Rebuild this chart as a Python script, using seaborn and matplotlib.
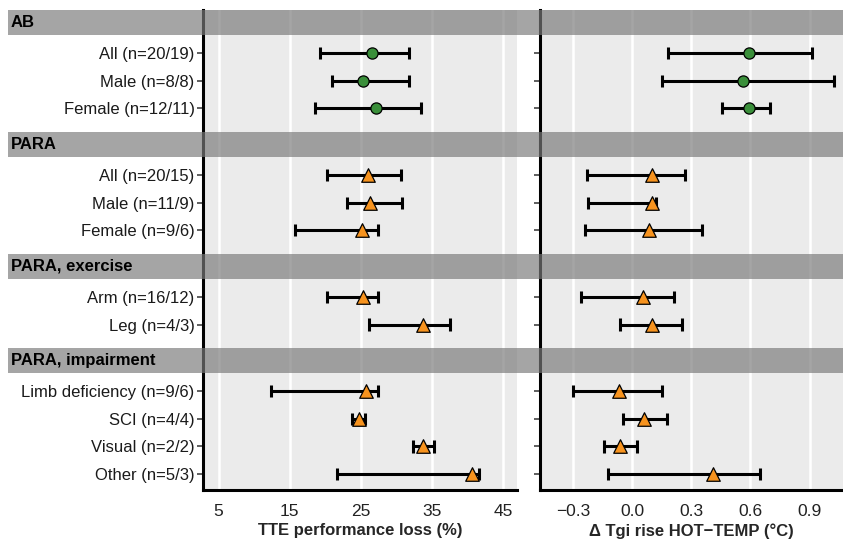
import numpy as np
import pandas as pd
import matplotlib
matplotlib.use("Agg")
import matplotlib.pyplot as plt
import matplotlib.transforms as mtransforms
from matplotlib.patches import Rectangle
import seaborn as sns

# -------------------- DATA --------------------
groups = ["AB", "PARA", "PARA, exercise", "PARA, impairment"]
group_rows = [
    ["All (n=20/19)", "Male (n=8/8)", "Female (n=12/11)"],
    ["All (n=20/15)", "Male (n=11/9)", "Female (n=9/6)"],
    ["Arm (n=16/12)", "Leg (n=4/3)"],
    ["Limb deficiency (n=9/6)", "SCI (n=4/4)", "Visual (n=2/2)", "Other (n=5/3)"],
]
population = ["AB"] * 3 + ["PARA"] * 9

# TTE performance loss (%)
tte_mean = [26.5, 25.3, 27.1, 26.0, 26.3, 25.1, 25.3, 33.8, 25.7, 24.7, 33.8, 40.6]
tte_low = [19.3, 20.9, 18.6, 20.2, 23.1, 15.7, 20.2, 26.2, 12.4, 23.7, 32.3, 21.6]
tte_high = [31.7, 31.7, 33.5, 30.7, 30.8, 27.4, 27.4, 37.5, 27.4, 25.6, 35.3, 41.6]

# Delta Tgi rise HOT-TEMP (degC)
tgi_mean = [0.595, 0.563, 0.595, 0.100, 0.100, 0.086, 0.054, 0.101, -0.069, 0.061, -0.062, 0.411]
tgi_low = [0.181, 0.149, 0.456, -0.228, -0.223, -0.238, -0.259, -0.061, -0.299, -0.046, -0.143, -0.123]
tgi_high = [0.913, 1.024, 0.698, 0.266, 0.120, 0.352, 0.213, 0.254, 0.151, 0.178, 0.022, 0.648]

tte_ticks = [5, 15, 25, 35, 45]
tgi_ticks = [-0.3, 0.0, 0.3, 0.6, 0.9]

# -------------------- LAYOUT OF ROWS --------------------
header_pos = []
row_pos = []
row_labels = []
p = 0.45
for g, rows in zip(groups, group_rows):
    header_pos.append(p)
    p += 1.1
    for r in rows:
        row_pos.append(p)
        row_labels.append(r)
        p += 1.0
    p += 0.3
y_bottom = row_pos[-1] + 0.57

df = pd.DataFrame({
    "label": row_labels, "y": row_pos, "population": population,
    "tte": tte_mean, "tte_lo": tte_low, "tte_hi": tte_high,
    "tgi": tgi_mean, "tgi_lo": tgi_low, "tgi_hi": tgi_high,
})

# -------------------- STYLE --------------------
sns.set_theme(style="darkgrid", rc={
    "axes.facecolor": "#EBEBEB",
    "grid.color": "white",
    "grid.linewidth": 1.8,
})
plt.rcParams["font.family"] = ["Liberation Sans", "DejaVu Sans"]

W, H = 843, 540
fig = plt.figure(figsize=(W / 100, H / 100), dpi=100)
ax1 = fig.add_axes([203 / W, 1 - 490 / H, (517 - 203) / W, 480 / H])
ax2 = fig.add_axes([540 / W, 1 - 490 / H, (843 - 540) / W, 480 / H])

palette = {"AB": "#3a8f3a", "PARA": "#f7931e"}
markers = {"AB": "o", "PARA": "^"}


def draw_panel(ax, col, lo, hi, ticks, xlim, xlabel, fmt):
    ax.hlines(df["y"], df[lo], df[hi], color="black", lw=2.2, zorder=3)
    ax.errorbar(df[lo], df["y"], yerr=0.22, fmt="none", ecolor="black", elinewidth=2.2, zorder=3)
    ax.errorbar(df[hi], df["y"], yerr=0.22, fmt="none", ecolor="black", elinewidth=2.2, zorder=3)
    for pop in ["AB", "PARA"]:
        sub = df[df["population"] == pop]
        sns.scatterplot(data=sub, x=col, y="y", ax=ax, color=palette[pop],
                        marker=markers[pop], s=65 if pop == "AB" else 95,
                        edgecolor="black", linewidth=0.9, zorder=4, legend=False)
    ax.set_xlim(*xlim)
    ax.set_ylim(y_bottom, 0)
    ax.set_xticks(ticks)
    ax.set_xticklabels([fmt(t) for t in ticks], fontsize=12.5, color="#222222")
    ax.set_yticks(row_pos)
    ax.grid(axis="y", visible=False)
    ax.grid(axis="x", visible=True)
    ax.set_xlabel(xlabel, fontsize=12, fontweight="bold", labelpad=3)
    ax.set_ylabel("")
    for s in ["top", "right"]:
        ax.spines[s].set_visible(False)
    for s in ["left", "bottom"]:
        ax.spines[s].set_visible(True)
        ax.spines[s].set_color("black")
        ax.spines[s].set_linewidth(2.2)
    ax.tick_params(axis="y", left=True, length=4, width=1.1, color="#333333")
    ax.tick_params(axis="x", bottom=False, pad=4)


draw_panel(ax1, "tte", "tte_lo", "tte_hi", tte_ticks, (2.8, 46.95),
           "TTE performance loss (%)", lambda t: f"{t:d}")
draw_panel(ax2, "tgi", "tgi_lo", "tgi_hi", tgi_ticks, (-0.468, 1.07),
           "\u0394 Tgi rise HOT\u2212TEMP (\u00b0C)", lambda t: f"{t:.1f}".replace("-", "\u2212"))

ax1.set_yticklabels(row_labels, fontsize=12, color="#1a1a1a")
ax1.tick_params(axis="y", pad=2)
ax2.set_yticklabels([])

# group header strips spanning the whole figure width
trans = mtransforms.blended_transform_factory(fig.transFigure, ax1.transData)
for g, hp in zip(groups, header_pos):
    rect = Rectangle((8 / W, hp - 0.46), 1 - 8 / W, 0.92, transform=trans,
                     facecolor="#7a7a7a", alpha=0.68, edgecolor="none", zorder=5)
    fig.add_artist(rect)
    fig.text(11 / W, hp, g, transform=trans, fontsize=12, fontweight="bold",
             va="center", ha="left", color="black", zorder=6)

fig.savefig("out.png", dpi=100)
